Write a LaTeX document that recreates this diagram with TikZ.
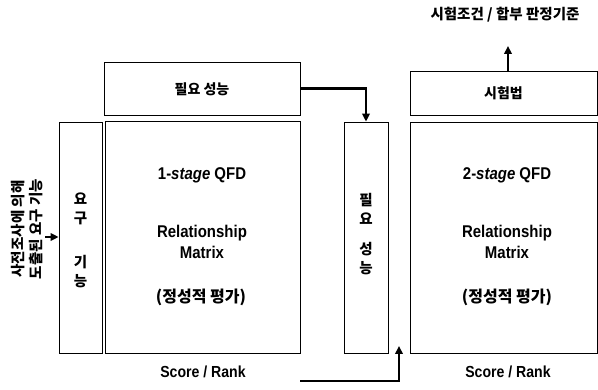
\documentclass[tikz,border=0pt]{standalone}
\usepackage{fontspec}
\setmainfont{Liberation Sans}
\newfontfamily\kr{Noto Sans CJK KR}
\usetikzlibrary{arrows.meta}
\tikzset{
  box/.style={draw, line width=0.8pt, inner sep=0pt},
  flow/.style={line width=2.2pt, -{Triangle[length=8pt,width=7.5pt]}},
  en/.style={font=\fontsize{17}{19}\selectfont\bfseries, xscale=0.88, inner sep=0pt},
  ko/.style={font=\kr\fontsize{14}{16}\selectfont\bfseries, inner sep=0pt},
  vk/.style={font=\kr\fontsize{14.5}{19}\selectfont\bfseries, inner sep=0pt, align=center},
}
\begin{document}
\begin{tikzpicture}[x=1pt,y=-1pt]
\useasboundingbox (0,0) rectangle (598,390);
% boxes
\node[box, minimum width=196pt, minimum height=53pt] (need) at (202,88.5) {};
\node[box, minimum width=195pt, minimum height=232pt] (qfd1) at (202.5,237) {};
\node[box, minimum width=43pt, minimum height=231pt] (req) at (80.5,237.5) {};
\node[box, minimum width=44pt, minimum height=231pt] (perf) at (366,237.5) {};
\node[box, minimum width=187pt, minimum height=44pt] (test) at (503.5,93) {};
\node[box, minimum width=187pt, minimum height=231pt] (qfd2) at (503.5,237.5) {};
% box texts
\node[ko] (needt) at (202,89) {필요 성능};
\node[ko] (testt) at (503.5,93) {시험법};
\node[vk] (reqa) at (80.5,209) {요\\구};
\node[vk] (reqb) at (80.5,272) {기\\능};
\node[vk] (perfa) at (366,209) {필\\요};
\node[vk] (perfb) at (366,259) {성\\능};
% matrix texts
\node[en] (t1) at (202,175) {1-\textit{stage} QFD};
\node[en] (r1) at (202,233) {Relationship};
\node[en] (m1) at (202,252) {Matrix};
\node[ko, font=\kr\fontsize{16}{18}\selectfont\bfseries] (p1) at (201,297) {(정성적 평가)};
\node[en] (t2) at (507,175) {2-\textit{stage} QFD};
\node[en] (r2) at (507,233) {Relationship};
\node[en] (m2) at (507,252) {Matrix};
\node[ko, font=\kr\fontsize{16}{18}\selectfont\bfseries] (p2) at (507,297) {(정성적 평가)};
% score labels
\node[en, font=\fontsize{16}{18}\selectfont\bfseries] (s1) at (203,372) {Score / Rank};
\node[en, font=\fontsize{16}{18}\selectfont\bfseries] (s2) at (508,372) {Score / Rank};
% title
\node[ko, font=\kr\fontsize{14.5}{16}\selectfont\bfseries] (title) at (505,15) {시험조건 / 합부 판정기준};
% left rotated text
\node[ko, rotate=90, align=center, font=\kr\fontsize{14.5}{18}\selectfont\bfseries] (left) at (27,229) {사전조사에 의해\\도출된 요구 기능};
% arrows
\coordinate (la) at (45,237);
\draw[flow] (la) -- (req.west |- la);
\draw[flow] (need.east) -| (perf.north);
\coordinate (ta) at (508,71);
\coordinate (tb) at (508,46);
\draw[flow] (ta) -- (tb);
\coordinate (sa) at (300,381);
\coordinate (sb) at (399,381);
\coordinate (sc) at (399,346);
\draw[flow] (sa) -- (sb) -- (sc);
\end{tikzpicture}
\end{document}
